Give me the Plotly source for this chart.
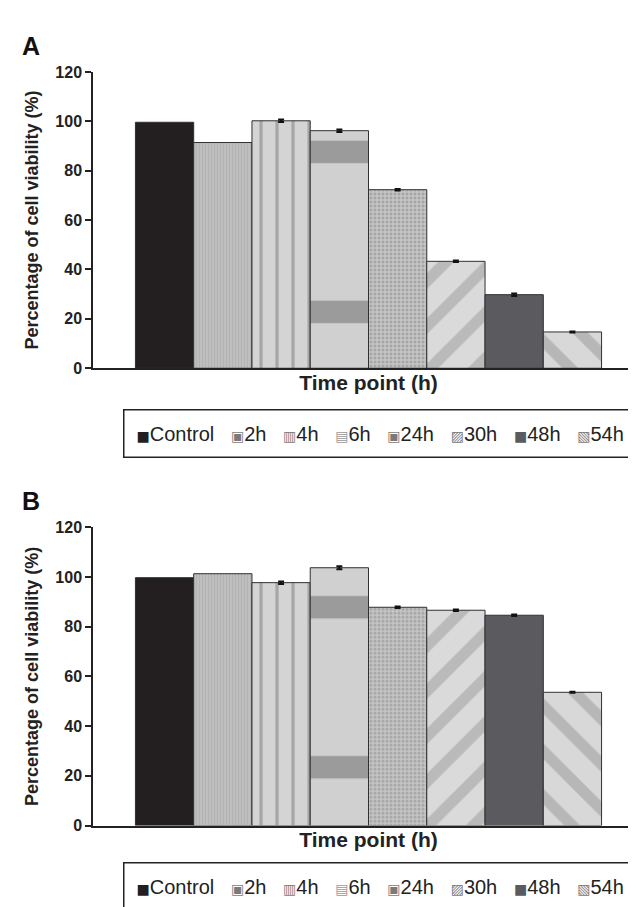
import plotly.graph_objects as go

series = ["Control", "2h", "4h", "6h", "24h", "30h", "48h", "54h"]
viability_a = [99.6, 91.4, 100.2, 96.2, 72.3, 43.3, 29.8, 14.7]
error_a = [0, 0, 0.5, 0.5, 0.3, 0.3, 0.5, 0.2]
viability_b = [99.7, 101.3, 97.7, 103.7, 87.8, 86.6, 84.6, 53.6]
error_b = [0, 0, 0.5, 0.6, 0.3, 0.3, 0.3, 0.2]
y_ticks = [0, 20, 40, 60, 80, 100, 120]
category = ["Time point (h)"]

styles = [
    dict(color="#231f20"),
    dict(color="#b8b8b8", pattern=dict(shape="|", fgcolor="#a2a2a2", bgcolor="#bfbfbf", size=3, solidity=0.3)),
    dict(color="#c8c8c8", pattern=dict(shape="|", fgcolor="#777777", bgcolor="#d4d4d4", size=16, solidity=0.2)),
    dict(color="#c8c8c8", pattern=dict(shape="-", fgcolor="#666666", bgcolor="#d0d0d0", size=160, solidity=0.14)),
    dict(color="#bdbdbd", pattern=dict(shape=".", fgcolor="#858585", bgcolor="#c6c6c6", size=4, solidity=0.5)),
    dict(color="#cccccc", pattern=dict(shape="/", fgcolor="#9a9a9a", bgcolor="#dadada", size=32, solidity=0.35)),
    dict(color="#5b5b5f"),
    dict(color="#cccccc", pattern=dict(shape="\\", fgcolor="#959595", bgcolor="#d8d8d8", size=32, solidity=0.35)),
]
legend_glyphs = [("■", "#231f20"), ("▣", "#7a7a7a"), ("▥", "#7a7a7a"), ("▤", "#999999"),
                 ("▣", "#7a7a7a"), ("▨", "#7a7a7a"), ("■", "#5b5b5f"), ("▧", "#7a7a7a")]

font_family = "Liberation Sans, Arial, sans-serif"
ink = "#222222"
fig = go.Figure()

for vals, errs, xa, ya in [
    (viability_a, error_a, "x", "y"),
    (viability_b, error_b, "x2", "y2"),
]:
    for name, v, e, st in zip(series, vals, errs, styles):
        marker = dict(color=st["color"], line=dict(color="#303030", width=1))
        if "pattern" in st:
            marker["pattern"] = st["pattern"]
        fig.add_trace(go.Bar(
            x=category, y=[v], name=name,
            marker=marker, showlegend=False,
            error_y=dict(type="data", array=[e], visible=e > 0, color="#111111", thickness=2, width=3),
            xaxis=xa, yaxis=ya,
        ))

axis_common_y = dict(
    range=[0, 120], tickvals=y_ticks, showgrid=False, zeroline=False,
    showline=True, linecolor=ink, linewidth=1.5,
    ticks="outside", ticklen=6, tickwidth=1.5, tickcolor=ink,
    tickfont=dict(family=font_family, size=16, color=ink, weight="bold"),
    title=dict(text="Percentage of cell viability (%)", standoff=12,
               font=dict(family=font_family, size=18, color=ink, weight="bold")),
)
axis_common_x = dict(
    showgrid=False, zeroline=False, showline=True, linecolor=ink, linewidth=1.5,
    showticklabels=False, ticks="",
    title=dict(text="Time point (h)", standoff=6,
               font=dict(family=font_family, size=21, color=ink, weight="bold")),
)

sep = "\u00a0" * 3
legend_text = sep.join(
    f"<span style='color:{c};font-size:14px;font-family:DejaVu Sans'>{g}</span>{name}"
    for (g, c), name in zip(legend_glyphs, series)
)

def legend_box(y_center):
    return dict(text=legend_text, x=372 / 636, y=1 - y_center / 907, xref="paper", yref="paper",
                xanchor="center", yanchor="middle", showarrow=False,
                bordercolor=ink, borderwidth=1.5, borderpad=12, bgcolor="white",
                font=dict(family=font_family, size=20, color=ink))

fig.update_layout(
    width=636, height=907,
    margin=dict(l=0, r=0, t=0, b=0),
    paper_bgcolor="white", plot_bgcolor="white",
    barmode="group", bargap=0.154, bargroupgap=0,
    showlegend=False,
    xaxis=dict(domain=[85 / 636, 1.0], anchor="y", **axis_common_x),
    yaxis=dict(domain=[0.6042, 0.9372], anchor="x", **axis_common_y),
    xaxis2=dict(domain=[85 / 636, 1.0], anchor="y2", **axis_common_x),
    yaxis2=dict(domain=[0.0904, 0.4256], anchor="x2", **axis_common_y),
    annotations=[
        legend_box(425),
        legend_box(887),
        dict(text="<b>A</b>", x=12 / 636, y=1 - 31 / 907, xref="paper", yref="paper",
             xanchor="left", yanchor="middle", showarrow=False,
             font=dict(family=font_family, size=25, color="#111111")),
        dict(text="<b>B</b>", x=12 / 636, y=1 - 494 / 907, xref="paper", yref="paper",
             xanchor="left", yanchor="middle", showarrow=False,
             font=dict(family=font_family, size=25, color="#111111")),
    ],
)

fig.write_html("out.html")
